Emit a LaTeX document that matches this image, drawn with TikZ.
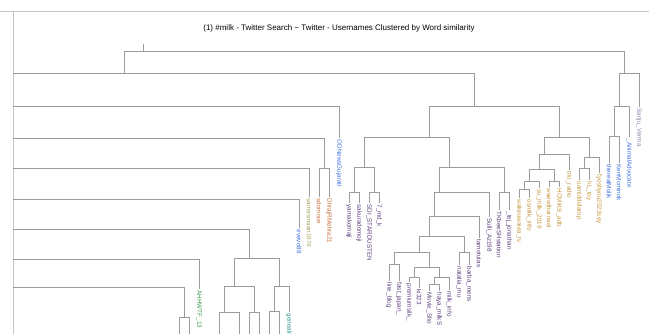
\documentclass[tikz,border=0pt]{standalone}
\usepackage{fontspec}
\setmainfont{Liberation Sans}
\usepackage{tikz}
\usetikzlibrary{positioning}
\definecolor{linkgray}{HTML}{9C9C9C}
\definecolor{framegray}{HTML}{C4C4C4}
\definecolor{cblue}{HTML}{3F6FE0}
\definecolor{cslate}{HTML}{8484AC}
\definecolor{crust}{HTML}{C8703C}
\definecolor{colive}{HTML}{A6A65A}
\definecolor{cplum}{HTML}{5C3F7E}
\definecolor{camber}{HTML}{C7963E}
\definecolor{cgreen}{HTML}{3C9A4A}
\definecolor{cteal}{HTML}{2E968A}

\begin{document}
\begin{tikzpicture}[x=1pt,y=-1pt,
	link/.style={draw=linkgray, line width=1pt},
	leaf/.style={rotate=-90, anchor=west, inner sep=1.5pt,
		font=\fontsize{6.3}{7}\selectfont, text=#1}]

	\useasboundingbox (0,0) rectangle (649,334);
	\clip (0,0) rectangle (649,334);

	% frame and title
	\draw[framegray, line width=0.8pt] (0,11) -- (649,11);
	\draw[framegray, line width=0.8pt] (13,11) -- (13,334);
	\node[font=\fontsize{8}{9}\selectfont] (title) at (339,28)
		{(1) \#milk - Twitter Search \textasciitilde{} Twitter - Usernames Clustered by Word similarity};

	% merge points
	\coordinate (top) at (143,44);
	\coordinate (root) at (143,52);
	\coordinate (n1) at (124,74);
	\coordinate (n2) at (624,74);
	\coordinate (a) at (474,107);
	\coordinate (b) at (429,138);
	\coordinate (c) at (559,138);
	\coordinate (d) at (364,168);
	\coordinate (e) at (449,168);
	\coordinate (d1) at (354,193);
	\coordinate (d2) at (374,193);
	\coordinate (f) at (439,193);
	\coordinate (g) at (504,193);
	\coordinate (h) at (434,217);
	\coordinate (i) at (429,237);
	\coordinate (j) at (419,253);
	\coordinate (k) at (464,253);
	\coordinate (l) at (394,265);
	\coordinate (m) at (429,268);
	\coordinate (m1) at (414,278);
	\coordinate (m2) at (439,278);
	\coordinate (m3) at (434,285);
	\coordinate (co) at (544,155);
	\coordinate (cp) at (589,158);
	\coordinate (cq) at (539,170);
	\coordinate (cr) at (529,182);
	\coordinate (cr1) at (524,190);
	\coordinate (cs) at (554,182);
	\coordinate (ct) at (584,169);
	\coordinate (u) at (619,107);
	\coordinate (v) at (614,137);
	\coordinate (w) at (324,169);
	\coordinate (x1) at (249,259);
	\coordinate (x2) at (234,287);
	\coordinate (x3) at (279,287);
	\coordinate (x4) at (274,312);
	\coordinate (x5) at (224,313);
	\coordinate (x6) at (254,313);
	\coordinate (y1) at (184,318);

	% branches cut by the frame
	\coordinate (cutA) at (13,74);
	\coordinate (cutB) at (13,107);
	\coordinate (cutC) at (13,139);
	\coordinate (cutD) at (13,169);
	\coordinate (cutE) at (13,200);
	\coordinate (cutF) at (13,230);
	\coordinate (cutG) at (13,260);
	\coordinate (cutH) at (13,288);

	% leaves
	\node[leaf=cslate] (sanju) at (639,107) {Sanju\_Verma};
	\node[leaf=cblue] (animal) at (629,137) {\_AnimalAdvocate};
	\node[leaf=cblue] (waffle) at (609,163) {therealMolik};
	\node[leaf=cblue] (kenmc) at (619,163) {KenMcminnk};
	\node[leaf=camber] (fyosh) at (599,173) {fyoshyou2023sey};
	\node[leaf=camber] (uamid) at (579,180) {uamiddolamp};
	\node[leaf=camber] (hltoy) at (589,180) {hL\_toy};
	\node[leaf=camber] (trio) at (569,170) {trio\_radio};
	\node[leaf=camber] (waesd) at (549,187) {waesdbarnael};
	\node[leaf=camber] (hcmik) at (559,187) {HCMIKS\_adb};
	\node[leaf=camber] (osmilk) at (539,188) {su\_milk\_2019};
	\node[leaf=camber] (wakeu) at (519,198) {wakeuwaiea\_tv};
	\node[leaf=camber] (sumilk) at (529,198) {osmilk\_info};
	\node[leaf=cplum] (tkbee) at (499,210) {TKbeeSHstation};
	\node[leaf=cplum] (tejjo) at (509,210) {\_tej\_jonathan};
	\node[leaf=cplum] (sulli) at (489,217) {Sulli\_Az198};
	\node[leaf=cplum] (tamot) at (479,238) {tamotutas};
	\node[leaf=cplum] (natal) at (459,265) {natalia\_mu};
	\node[leaf=cplum] (barba) at (469,265) {barba\_mens};
	\node[leaf=cplum] (lineb) at (389,281) {line\_blog};
	\node[leaf=cplum] (fastj) at (399,281) {fast\_japan\_};
	\node[leaf=cplum] (premi) at (409,282) {premiumsilk\_};
	\node[leaf=cplum] (ki) at (419,288) {ki323};
	\node[leaf=cplum] (movie) at (429,291) {Movie\_Sho};
	\node[leaf=cplum] (haya) at (439,291) {haya\_milkS};
	\node[leaf=cplum] (info) at (449,290) {milk\_info};
	\node[leaf=cplum] (yama) at (349,203) {yamakomaji};
	\node[leaf=cplum] (sakura) at (359,203) {sakuradomoji};
	\node[leaf=cplum] (sdi) at (369,203) {SDI\_STARDUSTEN};
	\node[leaf=cplum] (mdk) at (379,203) {7\_md\_k};
	\node[leaf=cblue] (odnews) at (339,138) {ODNewsGujarati};
	\node[leaf=crust] (sdom) at (319,197) {sdomoce};
	\node[leaf=crust] (dhraj) at (329,197) {DhrajRMehra21};
	\node[leaf=colive] (samas) at (309,197) {samasmaan1974};
	\node[leaf=cblue] (evevo) at (299,228) {evevo88};
	\node[leaf=cgreen] (ahhw) at (199,289) {AHHWTF\_13};
	\node[leaf=cteal] (gene) at (289,312) {genealmilk};

	% connectors
	\draw[link] (root) -- (top);
	\draw[link] (root) -| (n1);
	\draw[link] (root) -| (n2);
	\draw[link] (n1) -- (cutA);
	\draw[link] (n1) -| (a);
	\draw[link] (a) -| (b);
	\draw[link] (a) -| (c);
	\draw[link] (b) -| (d);
	\draw[link] (b) -| (e);
	\draw[link] (d) -| (d1);
	\draw[link] (d) -| (d2);
	\draw[link] (d1) -| (yama.west);
	\draw[link] (d1) -| (sakura.west);
	\draw[link] (d2) -| (sdi.west);
	\draw[link] (d2) -| (mdk.west);
	\draw[link] (e) -| (f);
	\draw[link] (e) -| (g);
	\draw[link] (g) -| (tkbee.west);
	\draw[link] (g) -| (tejjo.west);
	\draw[link] (f) -| (h);
	\draw[link] (f) -| (sulli.west);
	\draw[link] (h) -| (i);
	\draw[link] (h) -| (tamot.west);
	\draw[link] (i) -| (j);
	\draw[link] (i) -| (k);
	\draw[link] (k) -| (natal.west);
	\draw[link] (k) -| (barba.west);
	\draw[link] (j) -| (l);
	\draw[link] (j) -| (m);
	\draw[link] (l) -| (lineb.west);
	\draw[link] (l) -| (fastj.west);
	\draw[link] (m) -| (m1);
	\draw[link] (m) -| (m2);
	\draw[link] (m1) -| (premi.west);
	\draw[link] (m1) -| (ki.west);
	\draw[link] (m2) -| (m3);
	\draw[link] (m2) -| (info.west);
	\draw[link] (m3) -| (movie.west);
	\draw[link] (m3) -| (haya.west);
	\draw[link] (c) -| (co);
	\draw[link] (c) -| (cp);
	\draw[link] (co) -| (cq);
	\draw[link] (co) -| (trio.west);
	\draw[link] (cq) -| (cr);
	\draw[link] (cq) -| (cs);
	\draw[link] (cs) -| (waesd.west);
	\draw[link] (cs) -| (hcmik.west);
	\draw[link] (cr) -| (cr1);
	\draw[link] (cr) -| (osmilk.west);
	\draw[link] (cr1) -| (wakeu.west);
	\draw[link] (cr1) -| (sumilk.west);
	\draw[link] (cp) -| (ct);
	\draw[link] (cp) -| (fyosh.west);
	\draw[link] (ct) -| (uamid.west);
	\draw[link] (ct) -| (hltoy.west);
	\draw[link] (n2) -| (u);
	\draw[link] (n2) -| (sanju.west);
	\draw[link] (u) -| (v);
	\draw[link] (u) -| (animal.west);
	\draw[link] (v) -| (waffle.west);
	\draw[link] (v) -| (kenmc.west);

	\draw[link] (cutB) -| (odnews.west);
	\draw[link] (cutC) -| (w);
	\draw[link] (w) -| (sdom.west);
	\draw[link] (w) -| (dhraj.west);
	\draw[link] (cutD) -| (samas.west);
	\draw[link] (cutE) -| (evevo.west);
	\draw[link] (cutF) -| (x1);
	\draw[link] (x1) -| (x2);
	\draw[link] (x1) -| (x3);
	\draw[link] (x3) -| (x4);
	\draw[link] (x3) -| (gene.west);
	\draw[link] (x2) -| (x5);
	\draw[link] (x2) -| (x6);
	\draw[link] (cutG) -| (ahhw.west);
	\draw[link] (cutH) -| (y1);

	% stubs running past the lower edge
	\foreach \p/\dx in {x4/-5, x4/5, x5/-5, x5/15, x6/-5, x6/5, y1/-5, y1/5}
		\draw[link] (\p) -| ([xshift=\dx pt, yshift=-30pt]\p);
\end{tikzpicture}
\end{document}
